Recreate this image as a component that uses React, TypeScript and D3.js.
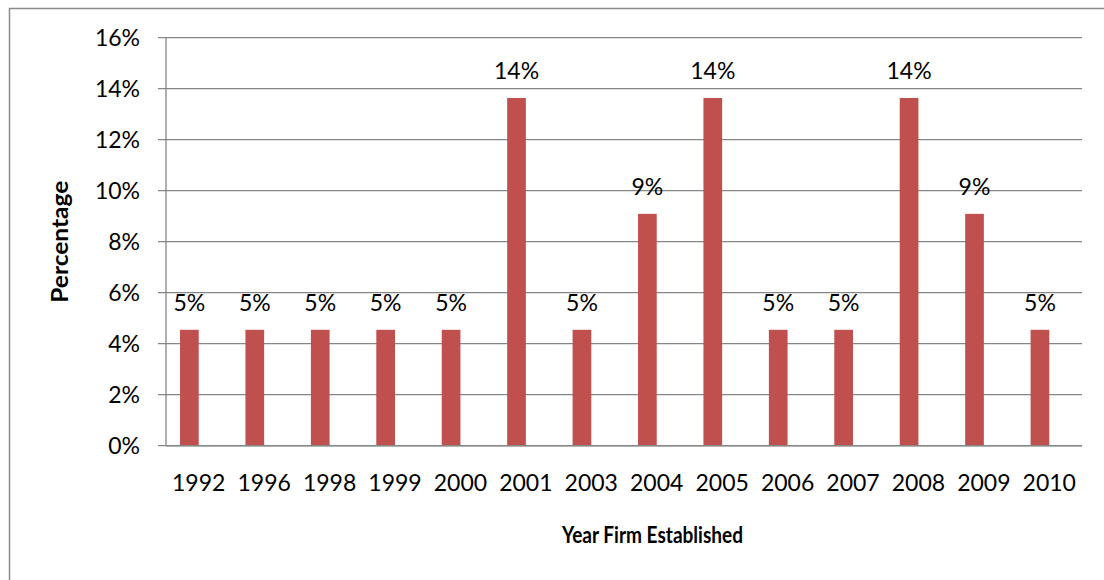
import React from "react";
import * as d3 from "d3";

const years = ["1992", "1996", "1998", "1999", "2000", "2001", "2003", "2004", "2005", "2006", "2007", "2008", "2009", "2010"];
const percentages = [4.545, 4.545, 4.545, 4.545, 4.545, 13.636, 4.545, 9.091, 13.636, 4.545, 4.545, 13.636, 9.091, 4.545];
const yTicks = [0, 2, 4, 6, 8, 10, 12, 14, 16];
const seriesSlots = ["Percentage", "empty"];

const W = 1104;
const H = 580;
const left = 166;
const right = 1082;
const top = 37.7;
const bottom = 445.7;
const FONT = "Lato, 'Open Sans', sans-serif";
const BAR = "#C0504D";
const GRID = "#868686";

export default function App() {
  const x = d3.scaleBand<string>().domain(years).range([left, right]).paddingInner(0).paddingOuter(0);
  // Excel clustered layout: gap width 150% with two series slots
  const bw = x.bandwidth();
  const slotW = bw / (seriesSlots.length + 1.5);
  const gap = (bw - slotW * seriesSlots.length) / 2;
  const y = d3.scaleLinear().domain([0, 16]).range([bottom, top]);

  return (
    <svg width={W} height={H} style={{ position: "absolute", left: 0, top: 0, background: "#fff" }}>
      <rect x={9.5} y={8.5} width={1200} height={700} fill="#fff" stroke="#8a8a8a" strokeWidth={1.5} />
      {yTicks.map((t) => (
        <g key={t}>
          <line x1={158} x2={right} y1={y(t)} y2={y(t)} stroke={GRID} strokeWidth={1.3} />
          <text x={140} y={y(t) + 8.3} textAnchor="end" fontFamily={FONT} fontSize={23} fill="#000">
            {t}%
          </text>
        </g>
      ))}
      <line x1={left} x2={left} y1={top} y2={bottom} stroke={GRID} strokeWidth={1.3} />
      {years.map((yr, i) => {
        const x0 = (x(yr) as number) + gap;
        const v = percentages[i];
        return (
          <g key={yr}>
            <rect x={x0} y={y(v)} width={slotW} height={bottom - y(v)} fill={BAR} />
            <text x={x0 + slotW / 2} y={y(v) - 19} textAnchor="middle" fontFamily={FONT} fontSize={23} fill="#000">
              {Math.round(v)}%
            </text>
            <text x={(x(yr) as number) + bw / 2} y={490.7} textAnchor="middle" fontFamily={FONT} fontSize={23} fill="#000">
              {yr}
            </text>
          </g>
        );
      })}
      <line x1={left} x2={right} y1={bottom} y2={bottom} stroke={GRID} strokeWidth={1.5} />
      <text
        x={652.5}
        y={543.3}
        textAnchor="middle"
        fontFamily={FONT}
        fontSize={22}
        fontWeight="bold"
        fill="#000"
        textLength={181}
        lengthAdjust="spacingAndGlyphs"
      >
        Year Firm Established
      </text>
      <text
        transform={`translate(67.5,${(top + bottom) / 2}) rotate(-90)`}
        textAnchor="middle"
        fontFamily={FONT}
        fontSize={22}
        fontWeight="bold"
        fill="#000"
        textLength={122}
        lengthAdjust="spacingAndGlyphs"
      >
        Percentage
      </text>
    </svg>
  );
}
